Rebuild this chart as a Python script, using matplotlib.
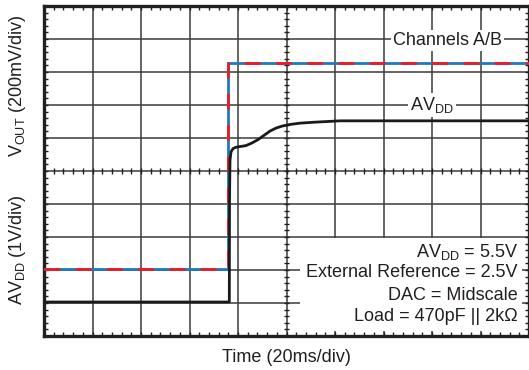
import numpy as np
import matplotlib
matplotlib.use("Agg")
import matplotlib.pyplot as plt
from matplotlib.ticker import MultipleLocator
from matplotlib.patches import Rectangle

plt.rcParams['font.family'] = ['Liberation Sans', 'DejaVu Sans']
plt.rcParams['mathtext.fontset'] = 'custom'
plt.rcParams['mathtext.rm'] = 'Liberation Sans'
plt.rcParams['mathtext.it'] = 'Liberation Sans'
plt.rcParams['lines.scale_dashes'] = False

# Data (in scope divisions)
t_ch = [0, 3.80, 3.80, 10]
v_ch = [2.03, 2.03, 8.26, 8.26]

t_avdd = [0, 3.821, 3.825, 3.835, 3.856, 3.897, 3.959, 4.041, 4.165, 4.289,
          4.412, 4.536, 4.660, 4.784, 4.907, 5.072, 5.278, 5.588, 6.103, 10]
v_avdd = [1.03, 1.03, 4.12, 5.33, 5.58, 5.68, 5.72, 5.74, 5.77, 5.85,
          5.95, 6.08, 6.21, 6.30, 6.36, 6.41, 6.45, 6.48, 6.52, 6.52]

notes = [r"AV$_{\mathrm{DD}}$ = 5.5V", "External Reference = 2.5V",
         "DAC = Midscale", "Load = 470pF || 2k\u03a9"]

TXT = '#231f20'
BLUE = '#1f78c1'
RED = '#ec1c24'

fig = plt.figure(figsize=(5.29, 3.70), dpi=100)
ax = fig.add_axes([44/529, 34/370, 485/529, 330/370])
ax.set_xlim(0, 10)
ax.set_ylim(0, 10)
ax.set_axisbelow(True)

ax.xaxis.set_major_locator(MultipleLocator(1))
ax.yaxis.set_major_locator(MultipleLocator(1))
ax.xaxis.set_minor_locator(MultipleLocator(0.2))
ax.yaxis.set_minor_locator(MultipleLocator(0.2))
ax.tick_params(which='both', direction='in', length=3, width=1, color=TXT,
               top=True, right=True, labelbottom=False, labelleft=False)
ax.grid(which='major', color='#3a3a3a', linewidth=1.1)
for s in ax.spines.values():
    s.set_linewidth(2.4)
    s.set_color(TXT)

# center crosses
pos = np.arange(0, 10.001, 0.2)
ax.vlines(pos, 5 - 0.08, 5 + 0.08, color=TXT, lw=1, zorder=0.6)
ax.hlines(pos, 5 - 0.06, 5 + 0.06, color=TXT, lw=1, zorder=0.6)

# white box behind notes
ax.add_patch(Rectangle((5.28, 0.16), 4.58, 2.81, facecolor='white',
                       edgecolor='none', zorder=1))

ax.plot(t_ch, v_ch, color=BLUE, lw=2.0, zorder=3, solid_joinstyle='miter')
ax.plot(t_ch, v_ch, color=RED, lw=2.0, zorder=3.1, dashes=(11.5, 11))
ax.plot(t_avdd, v_avdd, color='#1a1a1a', lw=2.0, zorder=4)

ax.text(8.32, 8.95, "Channels A/B", ha='center', va='center', fontsize=13,
        color=TXT, zorder=5,
        bbox=dict(facecolor='white', edgecolor='none', pad=1.5))
ax.text(8.0, 7.0, r"AV$_{\mathrm{DD}}$", ha='center', va='center', fontsize=13,
        color=TXT, zorder=5,
        bbox=dict(facecolor='white', edgecolor='none', pad=1.5))

ys = [2.55, 1.91, 1.24, 0.58]
for txt, y in zip(notes, ys):
    ax.text(9.77, y, txt, ha='right', va='center', fontsize=13, color=TXT,
            zorder=5)

fig.text(286/529, 1 - 357/370, "Time (20ms/div)", ha='center', va='center',
         fontsize=13, color=TXT)
fig.text(18/529, 1 - 86/370, r"V$_{\mathrm{OUT}}$ (200mV/div)", ha='center',
         va='center', rotation=90, fontsize=13, color=TXT)
fig.text(18/529, 1 - 250/370, r"AV$_{\mathrm{DD}}$ (1V/div)", ha='center',
         va='center', rotation=90, fontsize=13, color=TXT)

fig.savefig("out.png", dpi=100)
